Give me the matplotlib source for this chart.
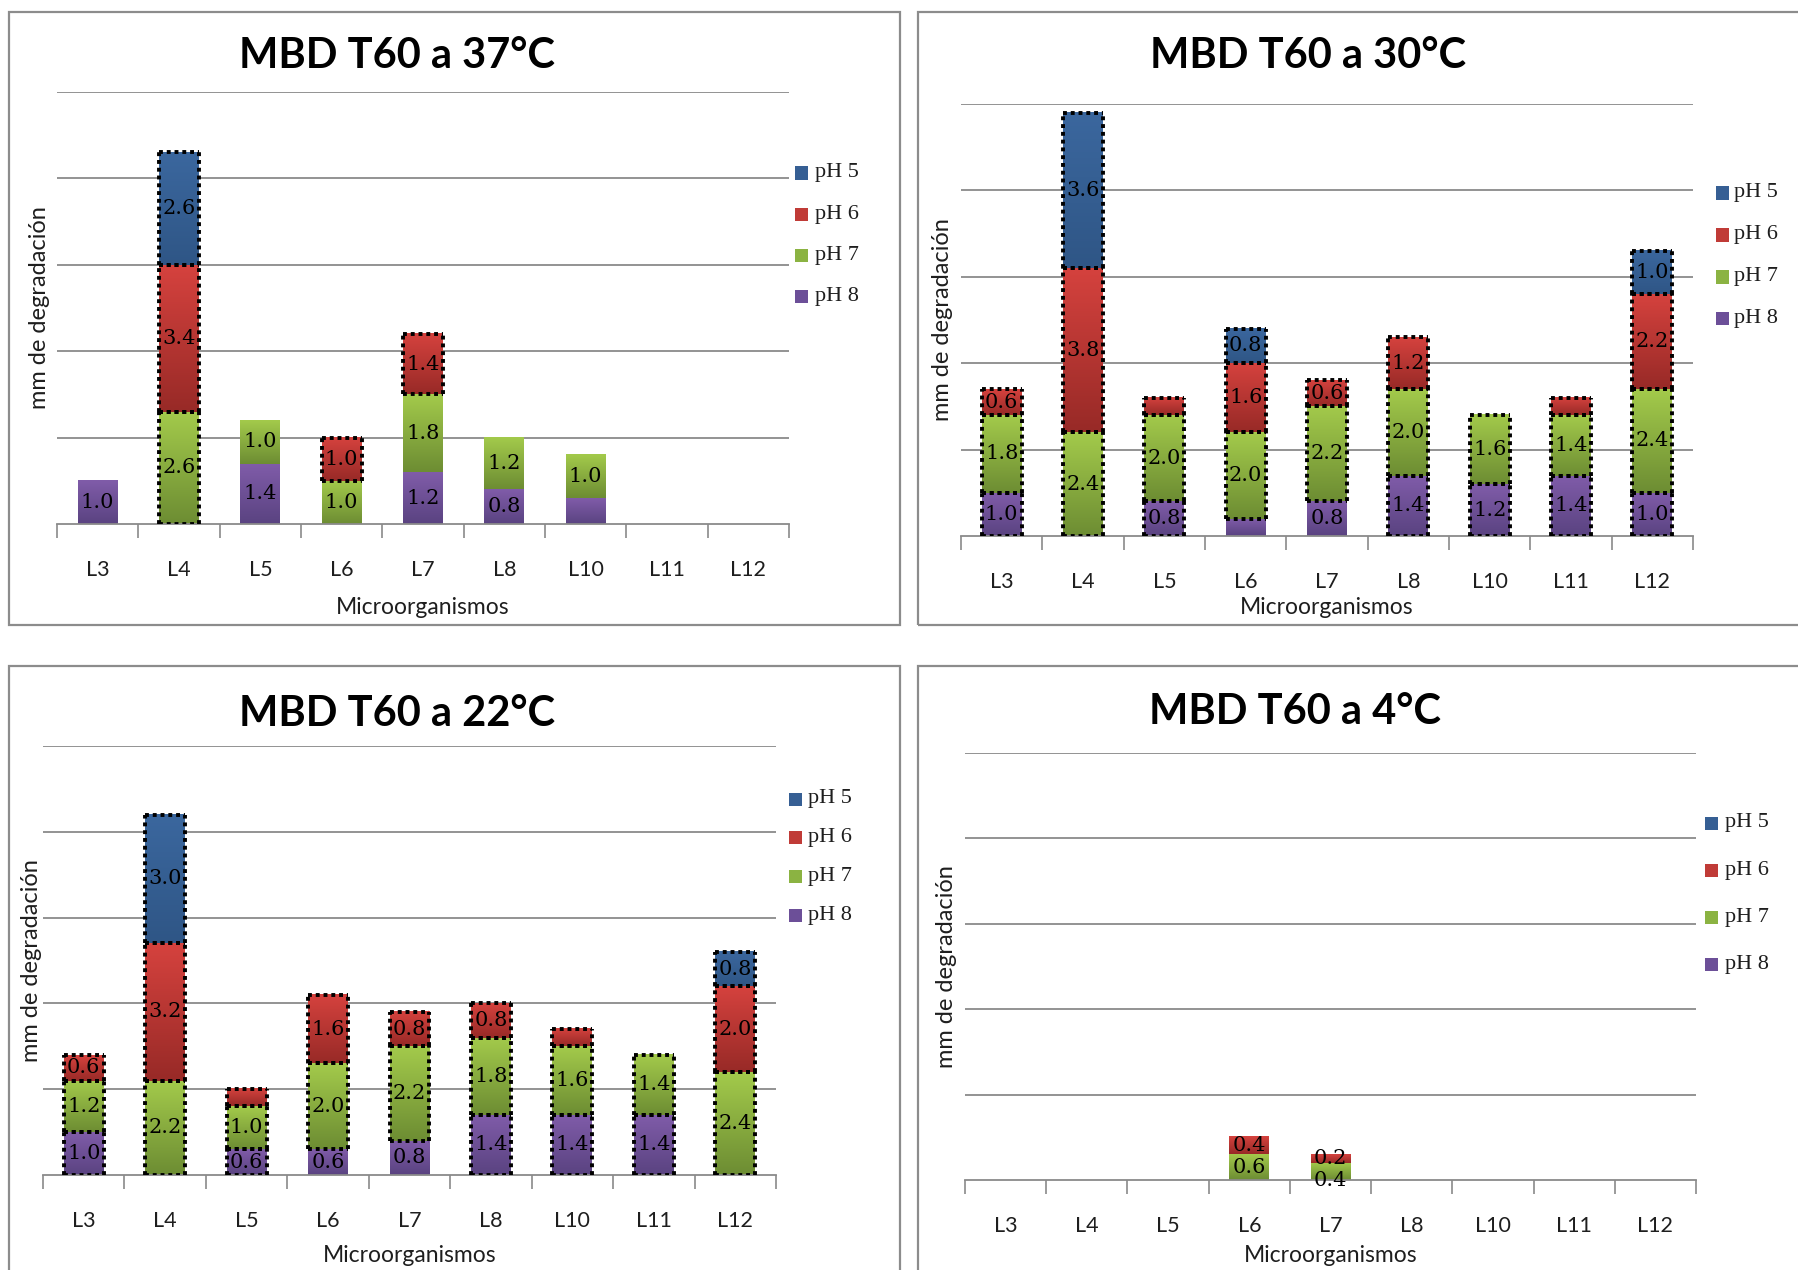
import numpy as np
import matplotlib
matplotlib.use("Agg")
import matplotlib.pyplot as plt
from matplotlib.colors import LinearSegmentedColormap
from matplotlib.patches import Rectangle

# ---------------------------------------------------------------- data
categories = ["L3", "L4", "L5", "L6", "L7", "L8", "L10", "L11", "L12"]
series = ["pH 5", "pH 6", "pH 7", "pH 8"]          # legend order
stack_order = ["pH 8", "pH 7", "pH 6", "pH 5"]     # bottom -> top

titles = ["MBD T60 a 37°C", "MBD T60 a 30°C", "MBD T60 a 22°C", "MBD T60 a 4°C"]

ph8_37 = [1.0, 0.0, 1.4, 0.0, 1.2, 0.8, 0.6, 0.0, 0.0]
ph7_37 = [0.0, 2.6, 1.0, 1.0, 1.8, 1.2, 1.0, 0.0, 0.0]
ph6_37 = [0.0, 3.4, 0.0, 1.0, 1.4, 0.0, 0.0, 0.0, 0.0]
ph5_37 = [0.0, 2.6, 0.0, 0.0, 0.0, 0.0, 0.0, 0.0, 0.0]

ph8_30 = [1.0, 0.0, 0.8, 0.4, 0.8, 1.4, 1.2, 1.4, 1.0]
ph7_30 = [1.8, 2.4, 2.0, 2.0, 2.2, 2.0, 1.6, 1.4, 2.4]
ph6_30 = [0.6, 3.8, 0.4, 1.6, 0.6, 1.2, 0.0, 0.4, 2.2]
ph5_30 = [0.0, 3.6, 0.0, 0.8, 0.0, 0.0, 0.0, 0.0, 1.0]

ph8_22 = [1.0, 0.0, 0.6, 0.6, 0.8, 1.4, 1.4, 1.4, 0.0]
ph7_22 = [1.2, 2.2, 1.0, 2.0, 2.2, 1.8, 1.6, 1.4, 2.4]
ph6_22 = [0.6, 3.2, 0.4, 1.6, 0.8, 0.8, 0.4, 0.0, 2.0]
ph5_22 = [0.0, 3.0, 0.0, 0.0, 0.0, 0.0, 0.0, 0.0, 0.8]

ph8_4 = [0.0, 0.0, 0.0, 0.0, 0.0, 0.0, 0.0, 0.0, 0.0]
ph7_4 = [0.0, 0.0, 0.0, 0.6, 0.4, 0.0, 0.0, 0.0, 0.0]
ph6_4 = [0.0, 0.0, 0.0, 0.4, 0.2, 0.0, 0.0, 0.0, 0.0]
ph5_4 = [0.0, 0.0, 0.0, 0.0, 0.0, 0.0, 0.0, 0.0, 0.0]

panel_values = [
    {"pH 8": ph8_37, "pH 7": ph7_37, "pH 6": ph6_37, "pH 5": ph5_37},
    {"pH 8": ph8_30, "pH 7": ph7_30, "pH 6": ph6_30, "pH 5": ph5_30},
    {"pH 8": ph8_22, "pH 7": ph7_22, "pH 6": ph6_22, "pH 5": ph5_22},
    {"pH 8": ph8_4, "pH 7": ph7_4, "pH 6": ph6_4, "pH 5": ph5_4},
]

# segments drawn without a value label
hidden_labels = [
    {("pH 8", "L10")},
    {("pH 6", "L5"), ("pH 8", "L6"), ("pH 6", "L11")},
    {("pH 6", "L5"), ("pH 6", "L10")},
    set(),
]

# ---------------------------------------------------------------- styles
W, H = 1798, 1270
DPI = 100

grad_colors = {
    "pH 5": ("#2f5686", "#3b679e"),
    "pH 6": ("#982a27", "#d5423e"),
    "pH 7": ("#6d8d33", "#a3ca4b"),
    "pH 8": ("#5a4381", "#805ca9"),
}
legend_colors = {"pH 5": "#365f94", "pH 6": "#c03b37", "pH 7": "#8bb342", "pH 8": "#6c4f98"}

def all_nonzero(vals, skip=()):
    out = set()
    for s, v in vals.items():
        for c, x in zip(categories, v):
            if x > 0 and (s, c) not in skip:
                out.add((s, c))
    return out

outlined = [
    {("pH 7", "L4"), ("pH 6", "L4"), ("pH 5", "L4"), ("pH 6", "L6"), ("pH 6", "L7")},
    all_nonzero(panel_values[1], {("pH 8", "L6"), ("pH 8", "L7")}),
    all_nonzero(panel_values[2], {("pH 8", "L6"), ("pH 8", "L7")}),
    set(),
]
label_nudge = [{}, {}, {}, {("pH 7", "L7"): -0.2}]

# layout in pixels: axes (left, right, top, bottom)
axes_px = [(57, 789, 92, 524), (961, 1693, 104, 536), (43, 776, 746, 1175), (965, 1696, 753, 1180)]
title_px = [(397, 56), (1308, 56), (397, 714), (1295, 712)]
xlabel_off = [83, 71, 80, 75]
ylabel_off = [17, 18, 11, 19]
legend_px = [  # square left x, text x, first row y, row step
    (795, 815, 173, 41.3),
    (1716, 1734, 193, 42.0),
    (789, 808, 799, 38.7),
    (1705, 1725, 823, 47.3),
]
frames_px = [(9, 12, 900, 625), (918, 12, 1830, 625), (9, 666, 900, 1300), (918, 666, 1830, 1300)]

SANS = ["Lato", "DejaVu Sans"]
SERIF = ["Liberation Serif", "DejaVu Serif"]
LABEL_SERIF = ["DejaVu Serif"]
GRID = "#8a8a8a"
TEXT = "#1e1e1e"
DOTS = dict(color="black", linewidth=2.8, linestyle=(0, (1, 1)),
            solid_capstyle="butt", dash_capstyle="butt", zorder=3)

fig = plt.figure(figsize=(W / DPI, H / DPI), dpi=DPI)
fig.patch.set_facecolor("white")

def fx(x):
    return x / W

def fy(y):
    return 1 - y / H

def dotted_box(ax, x0, y0, ww, hh):
    # every edge runs left->right or bottom->top so shared edges keep the same dot phase
    ax.plot([x0, x0 + ww], [y0, y0], **DOTS)
    ax.plot([x0, x0 + ww], [y0 + hh, y0 + hh], **DOTS)
    ax.plot([x0, x0], [y0, y0 + hh], **DOTS)
    ax.plot([x0 + ww, x0 + ww], [y0, y0 + hh], **DOTS)

# panel frames
for (x0, y0, x1, y1) in frames_px:
    fig.add_artist(Rectangle((fx(x0), fy(y1)), fx(x1 - x0), (y1 - y0) / H,
                             transform=fig.transFigure, fill=False,
                             edgecolor="#8c8c8c", linewidth=1.6, zorder=0))

bar_w = 0.49
x = np.arange(len(categories))

for p in range(4):
    l, r, t, b = axes_px[p]
    ax = fig.add_axes([fx(l), fy(b), fx(r - l), (b - t) / H])
    vals = panel_values[p]

    bottom = np.zeros(len(categories))
    for s in stack_order:
        v = np.array(vals[s], dtype=float)
        cmap = LinearSegmentedColormap.from_list(s, list(grad_colors[s]))
        bars = ax.bar(x, v, bar_w, bottom=bottom, color=legend_colors[s],
                      linewidth=0, zorder=2)
        for i, rect in enumerate(bars):
            if v[i] <= 0:
                continue
            x0, y0 = rect.get_x(), rect.get_y()
            ww, hh = rect.get_width(), rect.get_height()
            grad = np.linspace(1, 0, 64).reshape(-1, 1)
            ax.imshow(grad, extent=[x0, x0 + ww, y0, y0 + hh], cmap=cmap,
                      aspect="auto", origin="upper", zorder=2.2, interpolation="bilinear")
            c = categories[i]
            if (s, c) in outlined[p]:
                dotted_box(ax, x0, y0, ww, hh)
            if (s, c) not in hidden_labels[p]:
                yc = y0 + hh / 2 + label_nudge[p].get((s, c), 0.0)
                ax.text(x0 + ww / 2, yc, f"{v[i]:.1f}", ha="center", va="center",
                        fontsize=15, family=LABEL_SERIF, color="black", zorder=4)
        bottom += v

    ax.set_xlim(-0.5, len(categories) - 0.5)
    ax.set_ylim(0, 10)
    ax.set_yticks([2, 4, 6, 8, 10])
    ax.yaxis.grid(True, color=GRID, linewidth=1.3, zorder=0)
    ax.set_axisbelow(True)
    ax.tick_params(axis="y", length=0, labelleft=False)
    for sp in ("left", "right", "top"):
        ax.spines[sp].set_visible(False)
    ax.spines["bottom"].set_color(GRID)
    ax.spines["bottom"].set_linewidth(1.3)

    ax.set_xticks(x)
    ax.set_xticklabels(categories, family=SANS, fontsize=15.5, color=TEXT)
    ax.set_xticks(np.arange(-0.5, len(categories), 1.0), minor=True)
    ax.tick_params(axis="x", which="major", length=0, pad=33)
    ax.tick_params(axis="x", which="minor", length=10, width=1.2, color=GRID, direction="out")
    for lab in ax.get_xticklabels():
        lab.set_va("center")

    ax.set_xlabel("Microorganismos", family=SANS, fontsize=16.5, color=TEXT)
    ax.xaxis.set_label_coords(0.5, -xlabel_off[p] / (b - t))
    ax.xaxis.label.set_va("center")
    ax.set_ylabel("mm de degradación", family=SANS, fontsize=17, color=TEXT)
    ax.yaxis.set_label_coords(-ylabel_off[p] / (r - l), 0.5)
    ax.yaxis.label.set_va("center")

    tx, ty = title_px[p]
    fig.text(fx(tx), fy(ty), titles[p], ha="center", va="center",
             family=SANS, fontweight="bold", fontsize=30, color="black")

    sx, txt_x, y_first, step = legend_px[p]
    for k, s in enumerate(series):
        yy = y_first + k * step
        fig.add_artist(Rectangle((fx(sx), fy(yy + 6.5)), fx(13), 13 / H,
                                 transform=fig.transFigure, facecolor=legend_colors[s],
                                 edgecolor="none"))
        fig.text(fx(txt_x), fy(yy), s, ha="left", va="center",
                 family=SERIF, fontsize=16, color=TEXT)

fig.savefig("out.png", dpi=DPI, facecolor="white")
